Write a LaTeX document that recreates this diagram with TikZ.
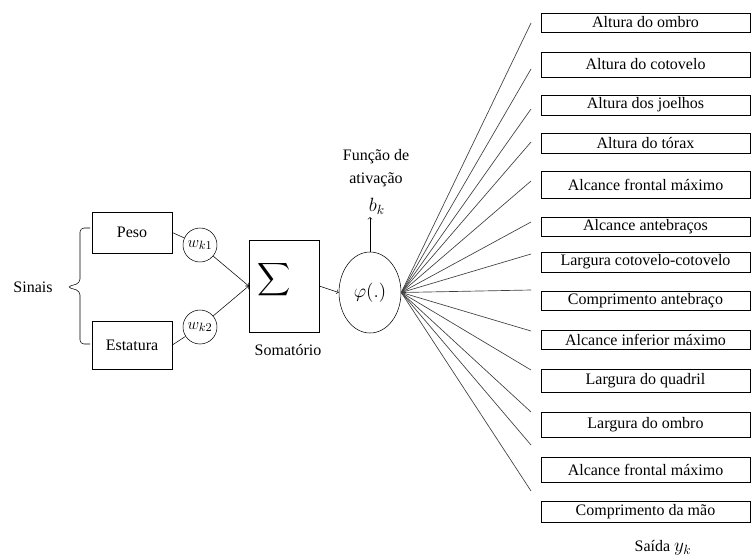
\documentclass[tikz,border=0pt]{standalone}
\usepackage{amsmath}
\usepackage{fontspec}
\setmainfont{Liberation Serif}
\usetikzlibrary{shapes.geometric}

\begin{document}
\begin{tikzpicture}[x=0.75pt,y=-0.75pt,font=\fontsize{12}{14}\selectfont,
    caixa/.style={draw,inner sep=0pt,minimum width=60pt},
    sinapse/.style={draw,circle,inner sep=0pt,minimum size=25.5pt,font=\fontsize{13}{15}\selectfont},
    saida/.style={draw,inner sep=0pt,minimum width=156.75pt,minimum height=15pt},
    raio/.style={black!75,line width=0.5pt}]

    \useasboundingbox (0,0) rectangle (752,557);

    % Entradas
    \node (sinais) at (33,287) {Sinais};
    \node[caixa,minimum height=30.75pt] (peso) at (132,232.5) {Peso};
    \node[caixa,minimum height=36pt] (estatura) at (132,345) {Estatura};
    \draw[rounded corners=3pt] (90,228) -- (80,228) -- (80,283) -- (67,287) -- (80,291) -- (80,344) -- (90,344);

    % Pesos
    \node[sinapse] (w1) at (200,245) {$w_{k1}$};
    \node[sinapse] (w2) at (200,327) {$w_{k2}$};
    \draw (peso.east) -- (w1);
    \draw (estatura.east) -- (w2);

    % Somatorio
    \node[draw,minimum width=52.5pt,minimum height=69pt] (soma) at (284,286) {};
    \node (sigma) at (274,280) {\fontsize{18}{22}\selectfont$\displaystyle\sum$};
    \node (somatorio) at (288,350) {Somatório};
    \draw[->] (w1) -- (soma.west);
    \draw[->] (w2) -- (soma.west);

    % Funcao de ativacao
    \node[draw,ellipse,inner sep=0pt,minimum width=46.5pt,minimum height=60.75pt,font=\fontsize{14}{16}\selectfont] (phi) at (370,292.5) {$\varphi(.)$};
    \node[align=center,font=\fontsize{12}{17}\selectfont] (ativacao) at (376,168) {Função de\\ativação};
    \node[inner sep=2pt,font=\fontsize{14}{16}\selectfont] (bk) at (377,206) {$b_k$};
    \draw[->] (soma.east) -- (phi.west);
    \draw[->] (phi.north) -- (phi.north |- bk.south);

    % Saidas
    \node[saida,minimum height=14.25pt] (s1) at (645.5,22.5) {Altura do ombro};
    \node[saida,minimum height=18.75pt] (s2) at (645.5,64.5) {Altura do cotovelo};
    \node[saida] (s3) at (645.5,105) {Altura dos joelhos};
    \node[saida] (s4) at (645.5,143) {Altura do tórax};
    \node[saida,minimum height=20.25pt] (s5) at (645.5,184.5) {Alcance frontal máximo};
    \node[saida,minimum height=14.25pt] (s6) at (645.5,226.5) {Alcance antebraços};
    \node[saida] (s7) at (645.5,262) {Largura cotovelo-cotovelo};
    \node[saida,minimum height=14.25pt] (s8) at (645.5,300.5) {Comprimento antebraço};
    \node[saida,minimum height=14.25pt] (s9) at (645.5,339.5) {Alcance inferior máximo};
    \node[saida,minimum height=17.25pt] (s10) at (645.5,380.5) {Largura do quadril};
    \node[saida,minimum height=18.75pt] (s11) at (645.5,424.5) {Largura do ombro};
    \node[saida,minimum height=18.75pt] (s12) at (645.5,469.5) {Alcance frontal máximo};
    \node[saida,minimum height=15.75pt] (s13) at (645.5,511.5) {Comprimento da mão};
    \node (yk) at (663,548) {Saída \fontsize{14}{16}\selectfont$y_k$};

    % Ligacoes
    \foreach \y [count=\i] in {23,69,109,142,181,222,254,290,331,370,412,445,491} {
        \coordinate (fim\i) at (531,\y);
        \draw[raio] (phi.east) -- (fim\i);
    }

\end{tikzpicture}
\end{document}
